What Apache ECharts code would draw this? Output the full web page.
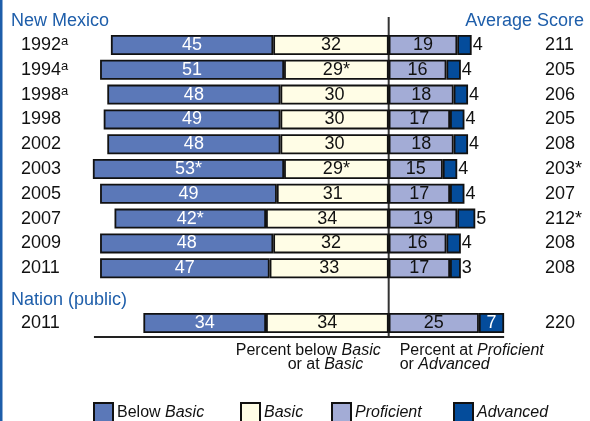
<!DOCTYPE html>
<html>
<head>
<meta charset="utf-8">
<script src="https://cdn.jsdelivr.net/npm/echarts@6/dist/echarts.min.js"></script>
<style>
  html, body { margin: 0; padding: 0; background: #fff; }
  #main { width: 590px; height: 421px; }
</style>
</head>
<body>
<div id="main"></div>
<script>
// New Mexico rows
const years = ['1992', '1994', '1998', '1998', '2002', '2003', '2005', '2007', '2009', '2011'];
const yearNote = ['a', 'a', 'a', '', '', '', '', '', '', ''];
const belowBasic = [45, 51, 48, 49, 48, 53, 49, 42, 48, 47];
const basic = [32, 29, 30, 30, 30, 29, 31, 34, 32, 33];
const proficient = [19, 16, 18, 17, 18, 15, 17, 19, 16, 17];
const advanced = [4, 4, 4, 4, 4, 4, 4, 5, 4, 3];
const belowMark = ['', '', '', '', '', '*', '', '*', '', ''];
const basicMark = ['', '*', '', '', '', '*', '', '', '', ''];
const avgScore = ['211', '205', '206', '205', '208', '203*', '207', '212*', '208', '208'];

// Nation (public)
const natYears = ['2011'];
const natBelowBasic = [34];
const natBasic = [34];
const natProficient = [25];
const natAdvanced = [7];
const natScore = ['220'];

const FONT = '"Liberation Sans", Arial, sans-serif';
const colors = {
  below: '#5b78b8',
  basic: '#fffde6',
  prof: '#a3acd6',
  adv: '#044c9b'
};
const border = { borderColor: '#111', borderWidth: 1.8 };

function lbl(color) {
  return { show: true, position: 'inside', color: color, fontFamily: FONT, fontSize: 18 };
}

function makeSeries(idx, stack, bb, ba, pr, ad, bbMark, baMark, advInside) {
  return [
    {
      name: 'Basic', type: 'bar', stack: stack, xAxisIndex: idx, yAxisIndex: idx * 2,
      barWidth: 20,
      itemStyle: Object.assign({ color: colors.basic }, border),
      label: Object.assign(lbl('#111'), {
        formatter: p => Math.abs(p.value) + (baMark ? baMark[p.dataIndex] : '')
      }),
      data: ba.map(v => -v)
    },
    {
      name: 'Below Basic', type: 'bar', stack: stack, xAxisIndex: idx, yAxisIndex: idx * 2,
      barWidth: 20,
      itemStyle: Object.assign({ color: colors.below }, border),
      label: Object.assign(lbl('#fff'), {
        formatter: p => Math.abs(p.value) + (bbMark ? bbMark[p.dataIndex] : '')
      }),
      data: bb.map(v => -v)
    },
    {
      name: 'Proficient', type: 'bar', stack: stack, xAxisIndex: idx, yAxisIndex: idx * 2,
      barWidth: 20,
      itemStyle: Object.assign({ color: colors.prof }, border),
      label: lbl('#111'),
      data: pr
    },
    {
      name: 'Advanced', type: 'bar', stack: stack, xAxisIndex: idx, yAxisIndex: idx * 2,
      barWidth: 20,
      itemStyle: Object.assign({ color: colors.adv }, border),
      label: advInside ? lbl('#fff') : Object.assign(lbl('#111'), { position: 'right', distance: 1 }),
      data: ad
    }
  ];
}

function catAxis(gridIndex, data, yearsSide) {
  return {
    type: 'category', gridIndex: gridIndex, inverse: true, data: data,
    axisLine: { show: false }, axisTick: { show: false },
    axisLabel: yearsSide ? {
      align: 'left', margin: 43, fontFamily: FONT, fontSize: 18, color: '#111',
      formatter: (v, i) => '{y|' + v + '}' + (gridIndex === 0 && yearNote[i] ? '{s|' + yearNote[i] + '}' : ''),
      rich: {
        y: { fontFamily: FONT, fontSize: 18, color: '#111', lineHeight: 20 },
        s: { fontFamily: FONT, fontSize: 13, color: '#111', verticalAlign: 'top', lineHeight: 12 }
      }
    } : {
      align: 'left', margin: 12, fontFamily: FONT, fontSize: 18, color: '#111'
    }
  };
}

function valAxis(gridIndex) {
  return {
    type: 'value', gridIndex: gridIndex, min: -90, max: 40,
    show: false, splitLine: { show: false }
  };
}

const legendPos = [
  { name: 'Below Basic', left: 93 },
  { name: 'Basic', left: 240 },
  { name: 'Proficient', left: 331 },
  { name: 'Advanced', left: 453 }
];
const legendText = {
  'Below Basic': 'Below {i|Basic}',
  'Basic': '{i|Basic}',
  'Proficient': '{i|Proficient}',
  'Advanced': '{i|Advanced}'
};

const option = {
  animation: false,
  backgroundColor: '#fff',
  grid: [
    { left: 64, right: 57, top: 32.6, height: 248 },
    { left: 64, right: 57, top: 310.6, height: 24.8 }
  ],
  xAxis: [valAxis(0), valAxis(1)],
  yAxis: [
    catAxis(0, years, true), Object.assign(catAxis(0, avgScore, false), { position: 'right' }),
    catAxis(1, natYears, true), Object.assign(catAxis(1, natScore, false), { position: 'right' })
  ],
  legend: legendPos.map(l => ({
    data: [l.name], left: l.left, top: 402, padding: 0, icon: 'rect',
    itemWidth: 19, itemHeight: 20, itemGap: 4, selectedMode: false,
    formatter: n => legendText[n],
    textStyle: {
      fontFamily: FONT, fontSize: 16, color: '#111', padding: [0, 0, 0, -1],
      rich: { i: { fontFamily: FONT, fontSize: 16, fontStyle: 'italic', color: '#111' } }
    }
  })),
  title: [
    { text: 'New Mexico', left: 6, top: 7, textStyle: { fontFamily: FONT, fontSize: 18, fontWeight: 'normal', color: '#1e5eaa' } },
    { text: 'Average Score', right: 1, top: 7, textStyle: { fontFamily: FONT, fontSize: 18, fontWeight: 'normal', color: '#1e5eaa' } },
    { text: 'Nation (public)', left: 6, top: 286, textStyle: { fontFamily: FONT, fontSize: 18, fontWeight: 'normal', color: '#1e5eaa' } }
  ],
  series: [].concat(
    makeSeries(0, 'nm', belowBasic, basic, proficient, advanced, belowMark, basicMark, false),
    makeSeries(1, 'nat', natBelowBasic, natBasic, natProficient, natAdvanced, null, null, true)
  )
};

const chart = echarts.init(document.getElementById('main'));
chart.setOption(option);

// reference lines and captions placed from the axis scale
const x0 = chart.convertToPixel({ xAxisIndex: 0 }, 0);
const xL = chart.convertToPixel({ xAxisIndex: 1 }, -81.7);
const xR = chart.convertToPixel({ xAxisIndex: 1 }, 32);
const capStyle = {
  fontFamily: FONT, fontSize: 16, fill: '#111',
  rich: { i: { fontFamily: FONT, fontSize: 16, fontStyle: 'italic', fill: '#111' } }
};
chart.setOption({
  graphic: [
    { type: 'rect', shape: { x: 0, y: 0, width: 2.5, height: 421 }, style: { fill: '#1e5eaa' } },
    { type: 'line', shape: { x1: x0, y1: 17, x2: x0, y2: 338 }, style: { stroke: '#333', lineWidth: 2 } },
    { type: 'line', shape: { x1: xL, y1: 337, x2: xR, y2: 337 }, style: { stroke: '#222', lineWidth: 1.8 } },
    { type: 'text', x: x0 - 8, y: 351, style: Object.assign({ text: 'Percent below {i|Basic}', align: 'right', verticalAlign: 'middle' }, capStyle) },
    { type: 'text', x: x0 - 101, y: 365, style: Object.assign({ text: 'or at {i|Basic}', align: 'left', verticalAlign: 'middle' }, capStyle) },
    { type: 'text', x: x0 + 11, y: 351, style: Object.assign({ text: 'Percent at {i|Proficient}', align: 'left', verticalAlign: 'middle' }, capStyle) },
    { type: 'text', x: x0 + 11, y: 365, style: Object.assign({ text: 'or {i|Advanced}', align: 'left', verticalAlign: 'middle' }, capStyle) }
  ]
});
</script>
</body>
</html>
